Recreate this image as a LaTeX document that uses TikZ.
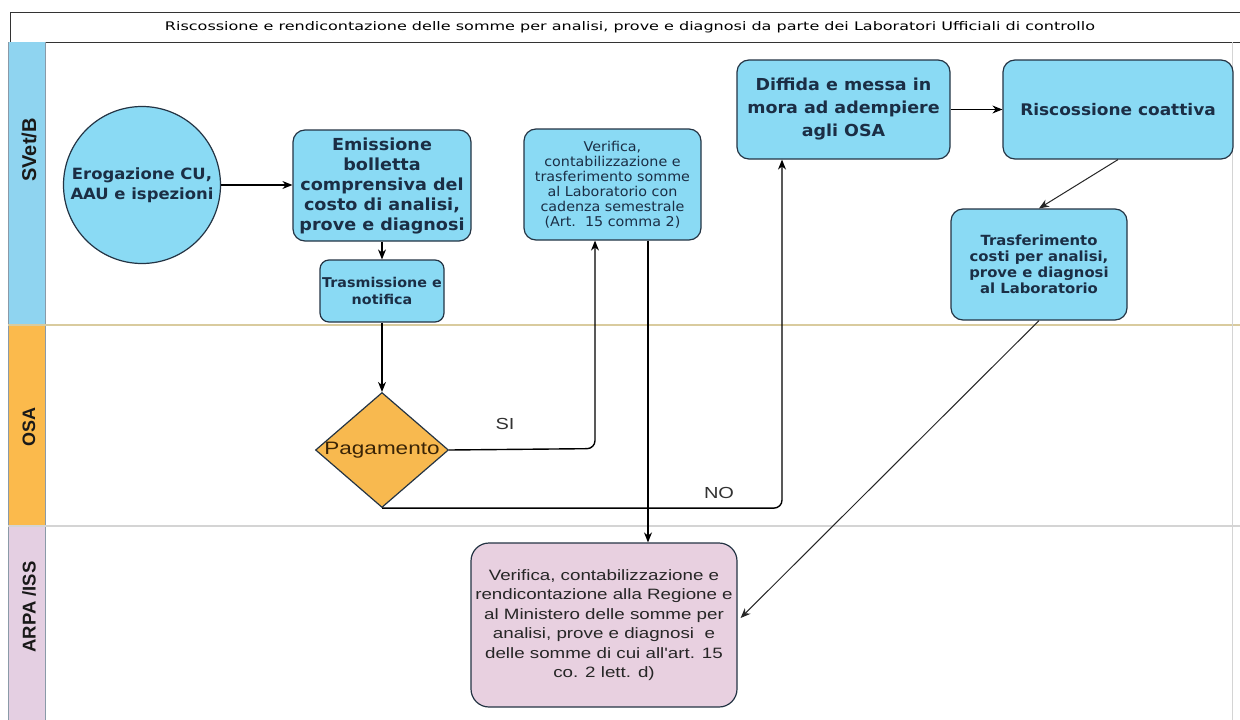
\documentclass[tikz,border=0pt]{standalone}
\usepackage{fontspec}
\usetikzlibrary{arrows.meta,calc,shapes.geometric}
\newfontfamily\verd{DejaVu Sans}[FakeStretch=1.06]
\newfontfamily\arialw{Liberation Sans}[FakeStretch=1.25]
\newfontfamily\arialb{Liberation Sans}
\definecolor{boxblue}{HTML}{8ADAF4}
\definecolor{laneblue}{HTML}{8FD4F0}
\definecolor{laneorange}{HTML}{FBBA4C}
\definecolor{lanepink}{HTML}{E4CFE2}
\definecolor{diaorange}{HTML}{F8B94F}
\definecolor{boxpink}{HTML}{E8D0E0}
\definecolor{navy}{HTML}{1B2E45}
\definecolor{edgecol}{HTML}{243444}
\definecolor{tanline}{HTML}{D9CB9E}
\definecolor{grayline}{HTML}{D4D4D4}
\definecolor{stripedge}{HTML}{8A9AA8}
\definecolor{darkbrown}{HTML}{3A2406}
\tikzset{
  bluebox/.style={draw=edgecol, line width=1.2pt, fill=boxblue, rounded corners=12pt,
    inner sep=0pt, align=center, text=navy},
  pinkbox/.style={draw=edgecol, line width=1.2pt, fill=boxpink, rounded corners=18pt,
    inner sep=0pt, align=center, text=black!85},
  lanelabel/.style={rotate=90, font=\arialb\bfseries\fontsize{20}{22}\selectfont, text=black!90},
  flow/.style={draw=black, line width=1.4pt, -{Stealth[length=10pt,width=8pt]}},
  thinflow/.style={draw=black!85, line width=1pt, -{Stealth[length=10pt,width=8pt]}},
  branch/.style={font=\arialw\fontsize{16}{18}\selectfont, text=black!80},
}
\begin{document}
\begin{tikzpicture}[x=1pt, y=-1pt]
\useasboundingbox (0,0) rectangle (1240,720);
\fill[white] (0,0) rectangle (1240,720);

% title bar
\draw[draw=black!80, line width=1pt, fill=white] (10,12) rectangle (1242,42);
\node[text=black] (title) at (630,27) {\resizebox{930pt}{9pt}{\verd Riscossione e rendicontazione delle somme per analisi, prove e diagnosi da parte dei Laboratori Ufficiali di controllo}};

% swimlanes
\fill[laneblue] (8,42) rectangle (45,325);
\fill[laneorange] (8,325) rectangle (45,525);
\fill[lanepink] (8,525) rectangle (45,720);
\draw[stripedge, line width=0.8pt] (8,42) -- (8,720);
\draw[stripedge, line width=0.8pt] (45,42) -- (45,720);
\draw[tanline, line width=1.5pt] (8,325) -- (1240,325);
\draw[grayline, line width=1.5pt] (8,526) -- (1240,526);
\draw[grayline, line width=0.6pt] (1232,42) -- (1232,720);

\node[lanelabel] (lsvet) at (29,150) {SVet/B};
\node[lanelabel, font=\arialb\bfseries\fontsize{18}{20}\selectfont] (losa) at (29,427) {OSA};
\node[lanelabel, font=\arialb\bfseries\fontsize{18.5}{20}\selectfont] (larpa) at (29,607) {ARPA /ISS};

% process steps
\node[circle, draw=edgecol, line width=1.2pt, fill=boxblue, minimum size=157pt, inner sep=0pt,
      align=center, text=navy, font=\verd\bfseries\fontsize{15.5}{20}\selectfont]
      (erog) at (142,185) {Erogazione CU,\\AAU e ispezioni};

\node[bluebox, minimum width=178pt, minimum height=111pt,
      font=\verd\bfseries\fontsize{16.6}{20}\selectfont]
      (emis) at (382,185.5) {Emissione\\bolletta\\comprensiva del\\costo di analisi,\\prove e diagnosi};

\node[bluebox, minimum width=124pt, minimum height=62pt, rounded corners=9pt,
      font=\verd\bfseries\fontsize{13.5}{17}\selectfont]
      (trasm) at (382,291) {Trasmissione e\\notifica};

\node[bluebox, minimum width=177pt, minimum height=111pt,
      font=\verd\fontsize{13.5}{15}\selectfont]
      (verif) at (612.5,184.5) {Verifica,\\contabilizzazione e\\trasferimento somme\\al Laboratorio con\\cadenza semestrale\\(Art.\ \ 15 comma 2)};

\node[bluebox, minimum width=213pt, minimum height=99pt,
      font=\verd\bfseries\fontsize{16.5}{23}\selectfont]
      (diff) at (843.5,109.5) {Diffida e messa in\\mora ad adempiere\\agli OSA};

\node[bluebox, minimum width=230pt, minimum height=99pt,
      font=\verd\bfseries\fontsize{16}{20}\selectfont]
      (risc) at (1118,109.5) {Riscossione coattiva};

\node[bluebox, minimum width=176pt, minimum height=111pt,
      font=\verd\bfseries\fontsize{14}{16}\selectfont]
      (trasf) at (1039,264.5) {Trasferimento\\costi per analisi,\\prove e diagnosi\\al Laboratorio};

\node[diamond, draw=edgecol, line width=1.2pt, fill=diaorange, minimum width=133pt,
      minimum height=115pt, inner sep=0pt,
      label={[font=\arialw\fontsize{18}{20}\selectfont, text=darkbrown]center:Pagamento}]
      (pag) at (382,450) {};

\node[pinkbox, minimum width=266pt, minimum height=164pt,
      font=\arialw\fontsize{15}{19.5}\selectfont]
      (purp) at (604,625) {Verifica, contabilizzazione e\\rendicontazione alla Regione e\\al Ministero delle somme per\\analisi, prove e diagnosi\ \ e\\delle somme di cui all'art. 15\\co. 2 lett. d)};

% bend points of the routed connectors
\coordinate (siturn) at ($(verif.south)+(-17.5,208)$);
\coordinate (siend) at ($(verif.south)+(-17.5,0)$);
\coordinate (dnstart) at ($(verif.south)+(35.5,0)$);
\coordinate (noturn) at ($(diff.south)+(-61.5,349)$);
\coordinate (noend) at ($(diff.south)+(-61.5,0)$);

% connectors
\draw[flow] (erog.east) -- (erog.east -| emis.west);
\draw[flow] (emis.south) -- (trasm.north);
\draw[flow] (trasm.south) -- (pag.north);
\draw[flow, rounded corners=8pt] (pag.east) -- (siturn) -- (siend);
\draw[flow] (dnstart) -- (dnstart |- purp.north);
\draw[flow, rounded corners=8pt] (pag.south) -- (pag.south -| noturn) -- (noend);
\draw[flow] (diff.east |- risc.west) -- (risc.west);
\draw[thinflow] (risc.south) -- (trasf.north);
\draw[thinflow] (trasf.south) -- ($(purp.east)+(3,-7)$);

\node[branch] (si) at (505,424) {SI};
\node[branch] (no) at (719,493) {NO};
\end{tikzpicture}
\end{document}
